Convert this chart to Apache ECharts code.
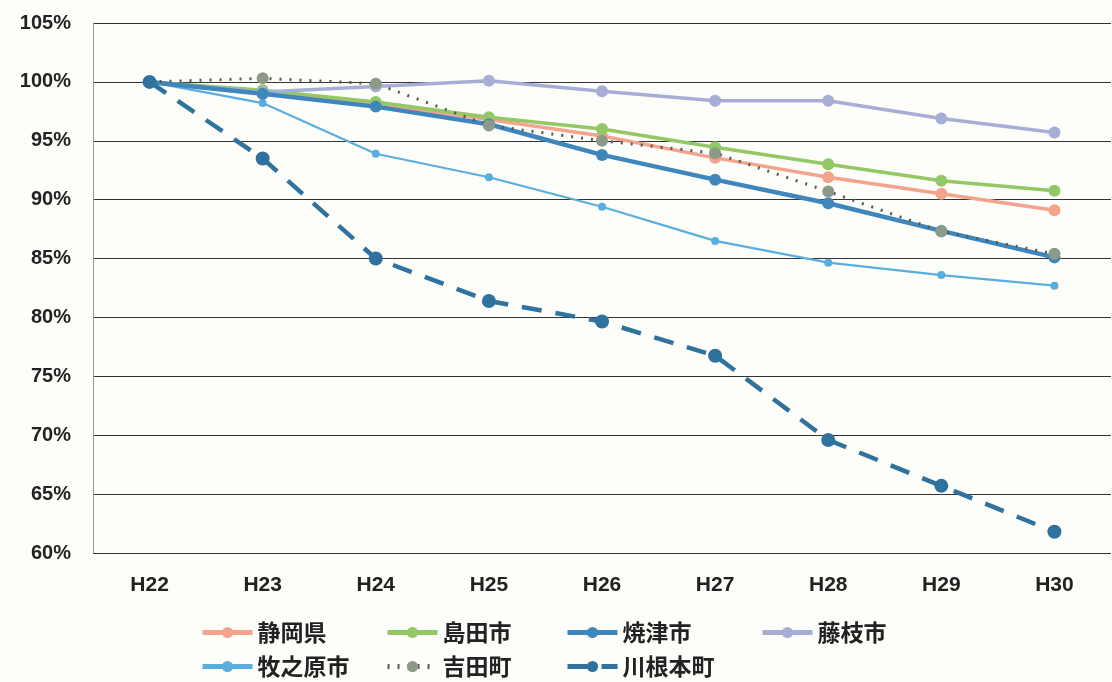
<!DOCTYPE html>
<html><head><meta charset="utf-8">
<script src="https://cdn.jsdelivr.net/npm/echarts@6/dist/echarts.min.js"></script>
<style>html,body{margin:0;padding:0;background:#fdfdf9}#c{width:1112px;height:682px}</style>
</head><body><div id="c"></div>
<script>
const categories = ['H22','H23','H24','H25','H26','H27','H28','H29','H30'];
const yTicks = [60,65,70,75,80,85,90,95,100,105];
const shizuokaken = [100, 99.0, 98.1, 96.8, 95.4, 93.55, 91.9, 90.5, 89.1];
const shimadashi  = [100, 99.3, 98.3, 97.0, 96.0, 94.45, 93.0, 91.6, 90.75];
const yaizushi    = [100, 99.0, 97.9, 96.4, 93.8, 91.7, 89.7, 87.35, 85.1];
const fujiedashi  = [100, 99.15, 99.6, 100.1, 99.2, 98.4, 98.4, 96.9, 95.7];
const makinoharashi = [100, 98.2, 93.9, 91.9, 89.4, 86.5, 84.65, 83.6, 82.7];
const yoshidacho  = [100, 100.3, 99.85, 96.3, 95.0, 93.95, 90.7, 87.3, 85.4];
const kawanehoncho = [100, 93.5, 85.0, 81.4, 79.65, 76.75, 69.6, 65.7, 61.8];
const names = ['静岡県','島田市','焼津市','藤枝市','牧之原市','吉田町','川根本町'];

const chart = echarts.init(document.getElementById('c'));
const FONT = '"Liberation Sans", Arial, sans-serif';
const CJK = '"Noto Sans CJK JP", sans-serif';

function mk(name, data, color, lw, type, sym, symColor, z){
  return {
    name, type:'line', data, symbol:'circle', symbolSize:sym, z:z,
    lineStyle:{color, width:lw, type:type},
    itemStyle:{color:symColor||color},
    emphasis:{disabled:true}, animation:false
  };
}
const series = [
  mk(names[0], shizuokaken, '#f2a48c', 3.5, 'solid', 12, null, 3),
  mk(names[1], shimadashi, '#93c865', 3.5, 'solid', 12, null, 3),
  mk(names[2], yaizushi, '#3f86bd', 4.5, 'solid', 12, null, 4),
  mk(names[3], fujiedashi, '#a7aed6', 3.5, 'solid', 12, null, 3),
  mk(names[4], makinoharashi, '#5aaedd', 2.2, 'solid', 8, null, 3),
  mk(names[5], yoshidacho, '#555a55', 3, [2,8], 12, '#8d9a8a', 5),
  mk(names[6], kawanehoncho, '#2f729d', 4.5, [20,14], 14, null, 6)
];

const legendPos = [[195,616],[380,616],[560,616],[755,616],[195,650],[380,650],[560,650]];
const legends = names.map((n,i)=>({
  data:[n], left:legendPos[i][0], top:legendPos[i][1],
  itemWidth:50, itemHeight:14, itemGap:6,
  lineStyle:{width:5},
  textStyle:{fontFamily:CJK, fontSize:23, fontWeight:'bold', color:'#222'},
  selectedMode:false
}));

chart.setOption({
  backgroundColor:'#fdfdf9',
  animation:false,
  grid:{left:93, right:1, top:23, bottom:129, containLabel:false},
  legend: legends,
  xAxis:{
    type:'category', data:categories, boundaryGap:true,
    axisLine:{show:false}, axisTick:{show:false},
    axisLabel:{margin:22, fontFamily:FONT, fontSize:21, fontWeight:'bold', color:'#222'}
  },
  yAxis:{
    type:'value', min:yTicks[0], max:yTicks[yTicks.length-1], interval:5,
    axisLine:{show:true, lineStyle:{color:'#999', width:1}},
    axisTick:{show:false},
    splitLine:{lineStyle:{color:'#333', width:1.2}},
    axisLabel:{margin:22, fontFamily:FONT, fontSize:20, fontWeight:'bold', color:'#222', formatter:v=>v+'%'}
  },
  series
});
</script></body></html>
